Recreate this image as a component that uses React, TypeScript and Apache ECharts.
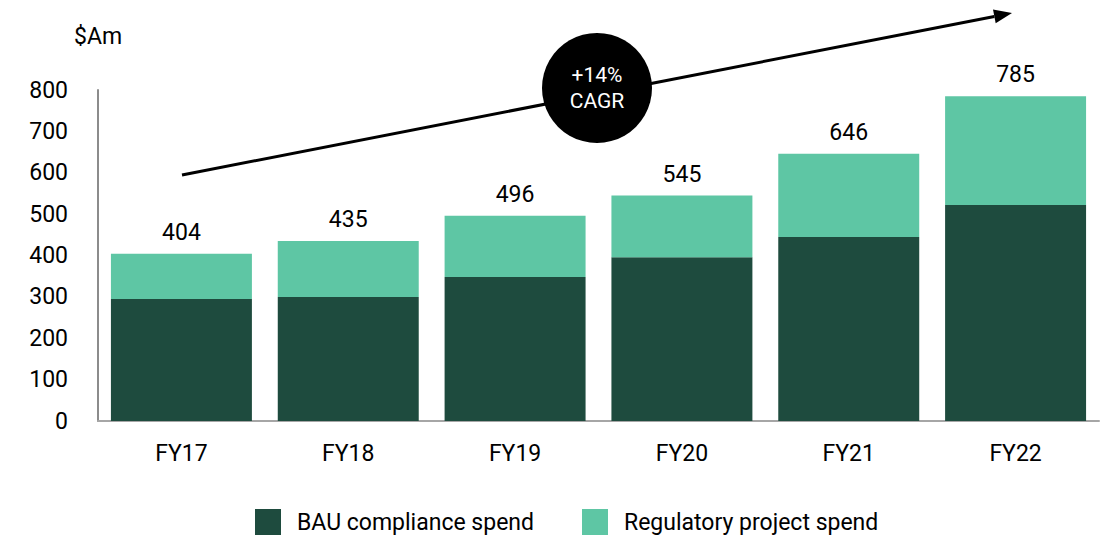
import React, { useEffect, useRef } from "react";
import * as echarts from "echarts";

const categories = ["FY17", "FY18", "FY19", "FY20", "FY21", "FY22"];
const bauSpend = [295, 300, 348, 396, 445, 522];
const regulatorySpend = [109, 135, 148, 149, 201, 263];
const yTicks = [0, 100, 200, 300, 400, 500, 600, 700, 800];
const cagrLabel = "+14%\nCAGR";
const unitLabel = "$Am";

const FONT = "Roboto, 'Liberation Sans', sans-serif";
const DARK = "#1E4B3E";
const LIGHT = "#5EC6A4";

export default function App() {
  const ref = useRef<HTMLDivElement>(null);
  useEffect(() => {
    if (!ref.current) return;
    const chart = echarts.init(ref.current, null, { renderer: "svg" });
    const totals = bauSpend.map((v, i) => v + regulatorySpend[i]);
    // arrow geometry
    const x1 = 182, y1 = 175, tx = 1012, ty = 13;
    const dx = tx - x1, dy = ty - y1;
    const len = Math.sqrt(dx * dx + dy * dy);
    const ux = dx / len, uy = dy / len;
    const nx = -uy, ny = ux;
    const hl = 18, hw = 7;
    const bx = tx - ux * hl, by = ty - uy * hl;
    chart.setOption({
      animation: false,
      textStyle: { fontFamily: FONT },
      grid: { left: 98, right: 1, top: 90, bottom: 116, containLabel: false },
      legend: {
        bottom: 2,
        left: 255,
        padding: 0,
        itemWidth: 26,
        itemHeight: 26,
        itemGap: 48,
        icon: "rect",
        textStyle: { fontSize: 23, color: "#000", fontFamily: FONT, padding: [0, 0, 0, 11] },
        data: ["BAU compliance spend", "Regulatory project spend"],
      },
      xAxis: {
        type: "category",
        data: categories,
        axisLine: { show: true, lineStyle: { color: "#A6A6A6", width: 2 } },
        axisTick: { show: false },
        axisLabel: { fontSize: 23, color: "#000", margin: 21, fontFamily: FONT },
      },
      yAxis: {
        type: "value",
        min: yTicks[0],
        max: yTicks[yTicks.length - 1],
        interval: 100,
        name: unitLabel,
        nameLocation: "end",
        nameGap: 42,
        nameTextStyle: { fontSize: 23, color: "#000", fontFamily: FONT, align: "center" },
        axisLine: { show: true, lineStyle: { color: "#8C8C8C", width: 2 } },
        axisTick: { show: false },
        splitLine: { show: false },
        axisLabel: { fontSize: 23, color: "#000", margin: 30, fontFamily: FONT },
      },
      series: [
        {
          name: "BAU compliance spend",
          type: "bar",
          stack: "total",
          data: bauSpend,
          barWidth: "84.5%",
          itemStyle: { color: DARK },
        },
        {
          name: "Regulatory project spend",
          type: "bar",
          stack: "total",
          data: regulatorySpend,
          barWidth: "84.5%",
          itemStyle: { color: LIGHT },
          label: {
            show: true,
            position: "top",
            distance: 10,
            fontSize: 23,
            color: "#000",
            fontFamily: FONT,
            formatter: (p: any) => String(totals[p.dataIndex]),
          },
        },
      ],
      graphic: [
        {
          type: "line",
          shape: { x1, y1, x2: bx, y2: by },
          style: { stroke: "#000", lineWidth: 3 },
          z: 10,
        },
        {
          type: "polygon",
          shape: {
            points: [
              [tx, ty],
              [bx + nx * hw, by + ny * hw],
              [bx - nx * hw, by - ny * hw],
            ],
          },
          style: { fill: "#000" },
          z: 10,
        },
        {
          type: "circle",
          shape: { cx: 597, cy: 88, r: 55 },
          style: { fill: "#000" },
          z: 11,
        },
        {
          type: "text",
          x: 597,
          y: 88,
          z: 12,
          style: {
            text: cagrLabel,
            fill: "#fff",
            fontSize: 21,
            lineHeight: 26,
            fontFamily: FONT,
            align: "center",
            verticalAlign: "middle",
          },
        },
      ],
    });
    return () => chart.dispose();
  }, []);
  return (
    <div
      ref={ref}
      style={{ position: "fixed", left: 0, top: 0, width: 1100, height: 537, background: "#fff" }}
    />
  );
}
